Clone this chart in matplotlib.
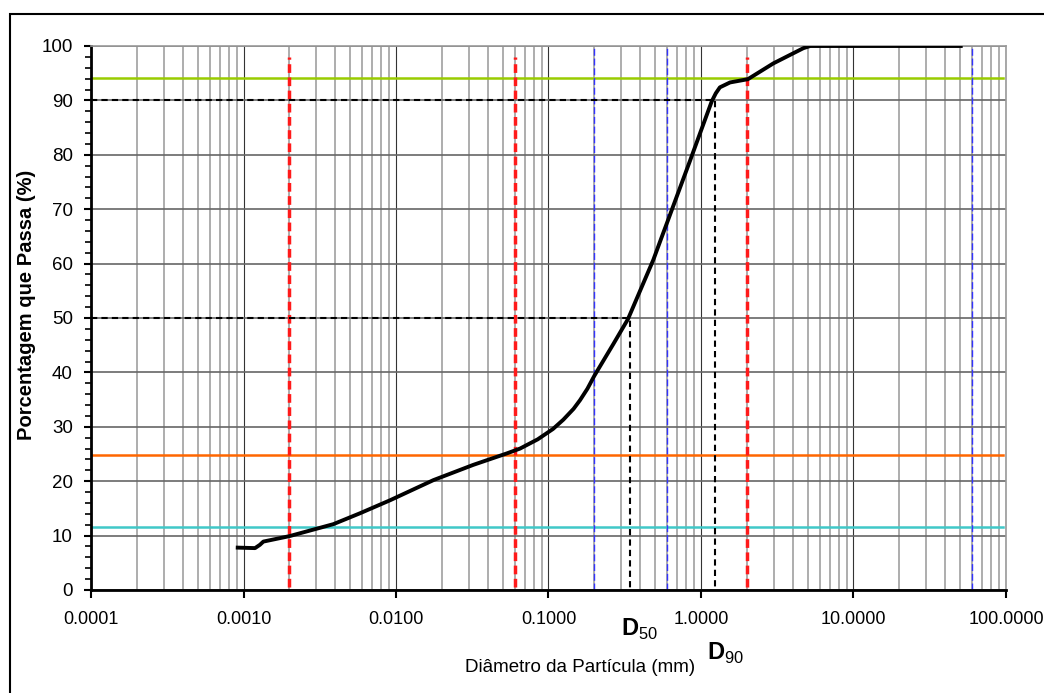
import matplotlib
matplotlib.use("Agg")
import matplotlib.pyplot as plt
from matplotlib.patches import Rectangle
from matplotlib.ticker import LogLocator, FixedLocator, MultipleLocator, NullFormatter

plt.rcParams['font.family'] = ['Liberation Sans', 'DejaVu Sans']
plt.rcParams['mathtext.fontset'] = 'custom'
plt.rcParams['mathtext.rm'] = 'Liberation Sans'
plt.rcParams['mathtext.bf'] = 'Liberation Sans:bold'

# Grain size curve
diametro = [0.00089, 0.00119, 0.00128, 0.00135, 0.002, 0.00388, 0.0058, 0.00915,
            0.0176, 0.0321, 0.0532, 0.0651, 0.085, 0.107, 0.125, 0.146, 0.161,
            0.18, 0.2, 0.266, 0.332, 0.487, 0.553, 0.608, 0.697, 0.847, 0.984,
            1.175, 1.25, 1.33, 1.55, 2.03, 2.98, 4.69, 5.2, 52.0]
passa = [7.8, 7.7, 8.3, 8.9, 9.9, 12.1, 14.1, 16.5,
         20.2, 23.0, 25.1, 26.0, 27.7, 29.6, 31.3, 33.3, 34.9,
         37.0, 39.4, 45.2, 49.8, 60.7, 64.9, 68.0, 72.5, 78.9, 83.9,
         89.8, 91.3, 92.4, 93.3, 93.9, 96.8, 99.6, 100.0, 100.0]

# Reference lines
red_x = [0.002, 0.06, 2.0]
blue_x = [0.2, 0.6, 60.0]
horiz_y = [94.2, 24.8, 11.6]
horiz_colors = ['#99cc00', '#ff6600', '#40c8c8']
d50, d90 = 0.34, 1.23

xticks = [0.0001, 0.001, 0.01, 0.1, 1, 10, 100]
xticklabels = ['0.0001', '0.0010', '0.0100', '0.1000', '1.0000', '10.0000', '100.0000']

fig = plt.figure(figsize=(10.44, 6.93), dpi=100)
ax = fig.add_axes([91 / 1044, 1 - 590 / 693, 915 / 1044, 544 / 693])

ax.set_xscale('log')
ax.set_xlim(0.0001, 100)
ax.set_ylim(0, 100)

# grid
ax.xaxis.set_major_locator(FixedLocator(xticks))
ax.xaxis.set_minor_locator(LogLocator(base=10, subs=range(2, 10), numticks=20))
ax.xaxis.set_minor_formatter(NullFormatter())
ax.yaxis.set_major_locator(MultipleLocator(10))
ax.yaxis.set_minor_locator(MultipleLocator(2))
ax.grid(True, which='minor', axis='x', color='#a0a0a0', lw=1.2, zorder=0)
ax.grid(True, which='major', axis='x', color='#333333', lw=0.8, zorder=0)
ax.grid(True, which='major', axis='y', color='#666666', lw=1.2, zorder=0)

ax.set_xticks(xticks)
ax.set_xticklabels(xticklabels)
ax.tick_params(axis='x', which='major', length=6, width=1.5, pad=9, labelsize=13)
ax.tick_params(axis='x', which='minor', length=0)
ax.tick_params(axis='y', which='major', length=5, width=1.5, pad=8, labelsize=13.5)
ax.tick_params(axis='y', which='minor', length=4, width=1.2)

for s in ['left', 'bottom']:
    ax.spines[s].set_linewidth(2)
    ax.spines[s].set_color('black')
for s in ['top', 'right']:
    ax.spines[s].set_linewidth(1.2)
    ax.spines[s].set_color('#999999')

# horizontal coloured lines
for yv, c in zip(horiz_y, horiz_colors):
    ax.plot([0.0001, 95], [yv, yv], color=c, lw=1.8, zorder=2)

# vertical dashed lines
for xv in blue_x:
    ax.plot([xv, xv], [0, 100], color='#3333ff', lw=1.0, dashes=(5, 2), zorder=2)
for xv in red_x:
    ax.plot([xv, xv], [0.5, 98], color='#ff1a1a', lw=2.5, dashes=(2.5, 1.3), zorder=3)

# D50 / D90 guides
ax.plot([0.0001, d50, d50], [50, 50, 0], color='black', lw=1.5, dashes=(3, 2), zorder=3)
ax.plot([0.0001, d90, d90], [90, 90, 0], color='black', lw=1.5, dashes=(3, 2), zorder=3)

# curve
ax.plot(diametro, passa, color='black', lw=2.8, zorder=4,
        solid_joinstyle='round', solid_capstyle='butt')

# labels
fig.text(27 / 1044, 1 - 305 / 693, 'Porcentagem que Passa (%)', rotation=90,
         ha='center', va='center', fontsize=14.5, fontweight='bold')
fig.text(580 / 1044, 1 - 667 / 693, 'Diâmetro da Partícula (mm)',
         ha='center', va='center', fontsize=13.5)
fig.text(640 / 1044, 1 - 629 / 693, r'$\mathbf{D}_{\mathrm{50}}$',
         ha='center', va='center', fontsize=17)
fig.text(726 / 1044, 1 - 653 / 693, r'$\mathbf{D}_{\mathrm{90}}$',
         ha='center', va='center', fontsize=17)

# outer border
fig.patches.append(Rectangle((10 / 1044, -0.05), 1.2, 1 - 14 / 693 + 0.05,
                             transform=fig.transFigure, fill=False,
                             edgecolor='black', lw=1.5))

fig.savefig('out.png', dpi=100)
